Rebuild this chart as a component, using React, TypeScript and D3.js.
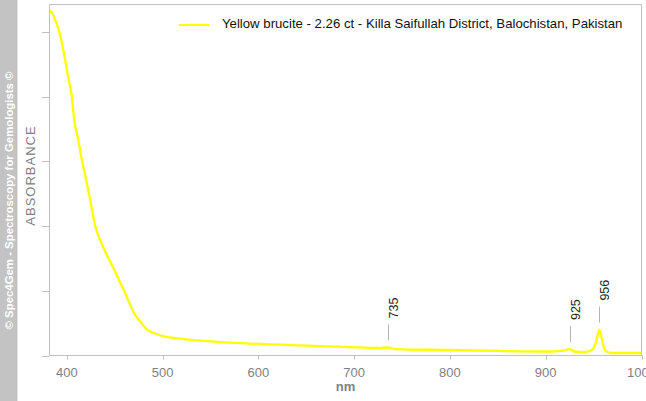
import React from "react";
import * as d3 from "d3";

const wavelengths = [
  382.1, 384.7, 387.8, 392.0, 395.1, 398.2, 401.4, 405.2, 407.6, 411.8, 416.0, 420.1, 424.3, 429.5,
  434.7, 439.9, 445.2, 450.4, 455.6, 459.8, 466.0, 471.2, 476.4, 483.7, 492.1, 502.5, 518.1, 539.0,
  591.1, 643.3, 695.4, 726.7, 735.0, 742.4, 799.7, 851.9, 904.0, 916.6, 925.0, 929.6, 941.1, 948.4,
  952.6, 956.0, 959.1, 962.2, 967.5, 1000.0,
];
const absorbance = [
  5.33, 5.29, 5.19, 5.01, 4.81, 4.57, 4.30, 4.00, 3.65, 3.34, 3.00, 2.72, 2.41, 2.01,
  1.79, 1.61, 1.45, 1.30, 1.13, 1.00, 0.79, 0.63, 0.53, 0.40, 0.34, 0.29, 0.26, 0.23,
  0.185, 0.155, 0.13, 0.116, 0.124, 0.10, 0.085, 0.07, 0.062, 0.07, 0.10, 0.062, 0.054, 0.085,
  0.216, 0.40, 0.216, 0.077, 0.039, 0.039,
];
const xTicks = [400, 500, 600, 700, 800, 900, 1000];
const yTicks = [0, 1, 2, 3, 4, 5];
const peaks = [735, 925, 956];
const legendLabel = "Yellow brucite - 2.26 ct - Killa Saifullah District, Balochistan, Pakistan";
const xTitle = "nm";
const yTitle = "ABSORBANCE";
const watermark = "© Spec4Gem - Spectroscopy for Gemologists ©";

const W = 646;
const H = 401;
const L = 49.5;
const R = 641.5;
const T = 4.5;
const B = 355.5;

export default function App() {
  const x = d3.scaleLinear().domain([381.9, 1000]).range([L, R]);
  const y = d3.scaleLinear().domain([0, (B - T) / 64.7]).range([B, T]);
  const pts = wavelengths.map((w, i) => [w, absorbance[i]] as [number, number]);
  const line = d3
    .line<[number, number]>()
    .x((d) => x(d[0]))
    .y((d) => y(d[1]))
    .curve(d3.curveMonotoneX);
  const valueAt = (nm: number) => {
    const i = wavelengths.indexOf(nm);
    if (i >= 0) return absorbance[i];
    const j = d3.bisectLeft(wavelengths, nm);
    return absorbance[Math.min(j, absorbance.length - 1)];
  };
  const gray = "#c0c0c0";
  const font = "'Liberation Sans', Arial, sans-serif";
  return (
    <svg
      width={W}
      height={H}
      style={{ position: "absolute", left: 0, top: 0, background: "#fff" }}
      fontFamily={font}
    >
      <defs>
        <clipPath id="plot">
          <rect x={L} y={T} width={R - L} height={B - T} />
        </clipPath>
      </defs>
      <rect x={0} y={0} width={17.5} height={H} fill="#c3c3c3" />
      <text
        transform={`translate(12.5, 200.5) rotate(-90)`}
        textAnchor="middle"
        fill="#fff"
        fontWeight="bold"
        fontSize={11.4}
      >
        {watermark}
      </text>
      {/* frame */}
      <line x1={L} y1={T} x2={R} y2={T} stroke={gray} />
      <line x1={L} y1={T} x2={L} y2={B} stroke={gray} />
      <line x1={R} y1={T} x2={R} y2={B} stroke={gray} />
      <line x1={L} y1={B} x2={R} y2={B} stroke={gray} />
      {yTicks.map((t) => (
        <line key={"y" + t} x1={42} x2={L} y1={Math.round(y(t)) + 0.5} y2={Math.round(y(t)) + 0.5} stroke={gray} />
      ))}
      {xTicks.map((t) => (
        <g key={"x" + t}>
          <line x1={Math.round(x(t)) + 0.5} x2={Math.round(x(t)) + 0.5} y1={B} y2={B + 4} stroke={gray} />
          <text x={x(t)} y={377} textAnchor="middle" fontSize={13} fill="#7f7f86">
            {t}
          </text>
        </g>
      ))}
      <text x={(L + R) / 2} y={391} textAnchor="middle" fontSize={13} fontWeight="bold" fill="#808080">
        {xTitle}
      </text>
      <text
        transform={`translate(35, 175.5) rotate(-90)`}
        textAnchor="middle"
        fontSize={13}
        letterSpacing={1}
        fill="#808080"
      >
        {yTitle}
      </text>
      <path d={line(pts) || ""} fill="none" stroke="#ffff00" strokeWidth={2.3} clipPath="url(#plot)" />
      {peaks.map((p) => {
        const py = y(valueAt(p));
        const px = Math.round(x(p)) + 0.5;
        return (
          <g key={"p" + p}>
            <line x1={px} x2={px} y1={py - 7} y2={py - 23} stroke="#b4b4b4" />
            <text transform={`translate(${px + 9}, ${py - 29}) rotate(-90)`} fontSize={12.5} fill="#222">
              {p}
            </text>
          </g>
        );
      })}
      <line x1={179} x2={209} y1={25} y2={25} stroke="#ffff00" strokeWidth={2} />
      <text x={222} y={28} fontSize={13.2} fill="#111">
        {legendLabel}
      </text>
    </svg>
  );
}
